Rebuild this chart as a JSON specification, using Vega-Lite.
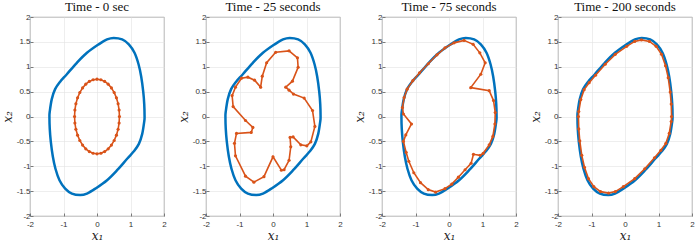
{
  "$schema": "https://vega.github.io/schema/vega-lite/v6.json",
  "padding": {"left": 0, "top": 0, "right": 0, "bottom": 0},
  "background": "white",
  "bounds": "flush",
  "spacing": 42,
  "config": {
    "view": {"stroke": "#7a7a7a", "strokeWidth": 0.8},
    "axis": {"grid": true, "gridColor": "#e3e3e3", "gridWidth": 0.6, "domain": false, "tickSize": -3, "tickColor": "#7a7a7a", "labelOverlap": false, "labelFlush": false, "labelFont": "Liberation Sans", "labelFontSize": 8, "labelColor": "#333333", "titleFont": "DejaVu Serif", "titleFontStyle": "italic", "titleFontWeight": "normal", "titleFontSize": 12, "titleColor": "#222222"},
    "axisX": {"labelPadding": 7, "titlePadding": 2},
    "axisY": {"labelPadding": 3, "titlePadding": 2},
    "title": {"font": "Liberation Serif", "fontSize": 13, "fontWeight": "normal", "color": "#111111", "offset": -1}
  },
  "datasets": {
    "blue": [
      {"i": 1, "x": 1.42, "y": 0.0}, {"i": 2, "x": 1.41, "y": 0.25}, {"i": 3, "x": 1.38, "y": 0.5}, {"i": 4, "x": 1.32, "y": 0.8}, {"i": 5, "x": 1.24, "y": 1.05}, {"i": 6, "x": 1.12, "y": 1.28}, {"i": 7, "x": 0.95, "y": 1.45}, {"i": 8, "x": 0.75, "y": 1.55}, {"i": 9, "x": 0.5, "y": 1.58}, {"i": 10, "x": 0.3, "y": 1.55}, {"i": 11, "x": 0.05, "y": 1.45}, {"i": 12, "x": -0.3, "y": 1.28}, {"i": 13, "x": -0.6, "y": 1.08}, {"i": 14, "x": -0.9, "y": 0.85}, {"i": 15, "x": -1.1, "y": 0.7}, {"i": 16, "x": -1.25, "y": 0.55}, {"i": 17, "x": -1.35, "y": 0.35}, {"i": 18, "x": -1.41, "y": 0.1},
      {"i": 19, "x": -1.42, "y": 0.0}, {"i": 20, "x": -1.41, "y": -0.25}, {"i": 21, "x": -1.38, "y": -0.5}, {"i": 22, "x": -1.32, "y": -0.8}, {"i": 23, "x": -1.24, "y": -1.05}, {"i": 24, "x": -1.12, "y": -1.28}, {"i": 25, "x": -0.95, "y": -1.45}, {"i": 26, "x": -0.75, "y": -1.55}, {"i": 27, "x": -0.5, "y": -1.58}, {"i": 28, "x": -0.3, "y": -1.55}, {"i": 29, "x": -0.05, "y": -1.45}, {"i": 30, "x": 0.3, "y": -1.28}, {"i": 31, "x": 0.6, "y": -1.08}, {"i": 32, "x": 0.9, "y": -0.85}, {"i": 33, "x": 1.1, "y": -0.7}, {"i": 34, "x": 1.25, "y": -0.55}, {"i": 35, "x": 1.35, "y": -0.35}, {"i": 36, "x": 1.41, "y": -0.1}
    ],
    "orange": [
      {"p": 1, "i": 1, "x": 0.67, "y": 0.0}, {"p": 1, "i": 2, "x": 0.66, "y": 0.13}, {"p": 1, "i": 3, "x": 0.63, "y": 0.257}, {"p": 1, "i": 4, "x": 0.58, "y": 0.375}, {"p": 1, "i": 5, "x": 0.513, "y": 0.482}, {"p": 1, "i": 6, "x": 0.431, "y": 0.575}, {"p": 1, "i": 7, "x": 0.335, "y": 0.65}, {"p": 1, "i": 8, "x": 0.229, "y": 0.705}, {"p": 1, "i": 9, "x": 0.116, "y": 0.739},
      {"p": 1, "i": 10, "x": 0.0, "y": 0.75}, {"p": 1, "i": 11, "x": -0.116, "y": 0.739}, {"p": 1, "i": 12, "x": -0.229, "y": 0.705}, {"p": 1, "i": 13, "x": -0.335, "y": 0.65}, {"p": 1, "i": 14, "x": -0.431, "y": 0.575}, {"p": 1, "i": 15, "x": -0.513, "y": 0.482}, {"p": 1, "i": 16, "x": -0.58, "y": 0.375}, {"p": 1, "i": 17, "x": -0.63, "y": 0.257}, {"p": 1, "i": 18, "x": -0.66, "y": 0.13},
      {"p": 1, "i": 19, "x": -0.67, "y": 0.0}, {"p": 1, "i": 20, "x": -0.66, "y": -0.13}, {"p": 1, "i": 21, "x": -0.63, "y": -0.257}, {"p": 1, "i": 22, "x": -0.58, "y": -0.375}, {"p": 1, "i": 23, "x": -0.513, "y": -0.482}, {"p": 1, "i": 24, "x": -0.431, "y": -0.575}, {"p": 1, "i": 25, "x": -0.335, "y": -0.65}, {"p": 1, "i": 26, "x": -0.229, "y": -0.705}, {"p": 1, "i": 27, "x": -0.116, "y": -0.739},
      {"p": 1, "i": 28, "x": 0.0, "y": -0.75}, {"p": 1, "i": 29, "x": 0.116, "y": -0.739}, {"p": 1, "i": 30, "x": 0.229, "y": -0.705}, {"p": 1, "i": 31, "x": 0.335, "y": -0.65}, {"p": 1, "i": 32, "x": 0.431, "y": -0.575}, {"p": 1, "i": 33, "x": 0.513, "y": -0.482}, {"p": 1, "i": 34, "x": 0.58, "y": -0.375}, {"p": 1, "i": 35, "x": 0.63, "y": -0.257}, {"p": 1, "i": 36, "x": 0.66, "y": -0.13},

      {"p": 2, "i": 1, "x": 0.08, "y": 1.29}, {"p": 2, "i": 2, "x": 0.48, "y": 1.32}, {"p": 2, "i": 3, "x": 0.73, "y": 1.18}, {"p": 2, "i": 4, "x": 0.75, "y": 0.99}, {"p": 2, "i": 5, "x": 0.58, "y": 0.71}, {"p": 2, "i": 6, "x": 0.38, "y": 0.59}, {"p": 2, "i": 7, "x": 0.48, "y": 0.53}, {"p": 2, "i": 8, "x": 0.61, "y": 0.45}, {"p": 2, "i": 9, "x": 0.93, "y": 0.37}, {"p": 2, "i": 10, "x": 1.18, "y": 0.12}, {"p": 2, "i": 11, "x": 1.25, "y": -0.2}, {"p": 2, "i": 12, "x": 1.13, "y": -0.51}, {"p": 2, "i": 13, "x": 1.01, "y": -0.59}, {"p": 2, "i": 14, "x": 0.83, "y": -0.57}, {"p": 2, "i": 15, "x": 0.6, "y": -0.41}, {"p": 2, "i": 16, "x": 0.51, "y": -0.42}, {"p": 2, "i": 17, "x": 0.53, "y": -0.61}, {"p": 2, "i": 18, "x": 0.48, "y": -0.88}, {"p": 2, "i": 19, "x": 0.33, "y": -1.07}, {"p": 2, "i": 20, "x": 0.25, "y": -1.08}, {"p": 2, "i": 21, "x": 0.0, "y": -0.81}, {"p": 2, "i": 22, "x": -0.27, "y": -1.21}, {"p": 2, "i": 23, "x": -0.57, "y": -1.32}, {"p": 2, "i": 24, "x": -0.82, "y": -1.2}, {"p": 2, "i": 25, "x": -1.12, "y": -0.79}, {"p": 2, "i": 26, "x": -1.15, "y": -0.54}, {"p": 2, "i": 27, "x": -1.09, "y": -0.34}, {"p": 2, "i": 28, "x": -0.65, "y": -0.32}, {"p": 2, "i": 29, "x": -0.6, "y": -0.22}, {"p": 2, "i": 30, "x": -0.82, "y": -0.08}, {"p": 2, "i": 31, "x": -1.19, "y": 0.2}, {"p": 2, "i": 32, "x": -1.22, "y": 0.42}, {"p": 2, "i": 33, "x": -1.12, "y": 0.59}, {"p": 2, "i": 34, "x": -0.94, "y": 0.77}, {"p": 2, "i": 35, "x": -0.75, "y": 0.79}, {"p": 2, "i": 36, "x": -0.55, "y": 0.73}, {"p": 2, "i": 37, "x": -0.37, "y": 0.59}, {"p": 2, "i": 38, "x": -0.32, "y": 0.81}, {"p": 2, "i": 39, "x": -0.19, "y": 1.08},

      {"p": 3, "i": 1, "x": 0.45, "y": 1.53}, {"p": 3, "i": 2, "x": 0.72, "y": 1.45}, {"p": 3, "i": 3, "x": 0.92, "y": 1.28}, {"p": 3, "i": 4, "x": 1.08, "y": 1.08}, {"p": 3, "i": 5, "x": 0.95, "y": 0.85}, {"p": 3, "i": 6, "x": 0.65, "y": 0.58}, {"p": 3, "i": 7, "x": 1.2, "y": 0.52}, {"p": 3, "i": 8, "x": 1.33, "y": 0.32}, {"p": 3, "i": 9, "x": 1.38, "y": 0.08}, {"p": 3, "i": 10, "x": 1.37, "y": -0.15}, {"p": 3, "i": 11, "x": 1.31, "y": -0.4}, {"p": 3, "i": 12, "x": 1.2, "y": -0.57}, {"p": 3, "i": 13, "x": 1.02, "y": -0.74}, {"p": 3, "i": 14, "x": 0.93, "y": -0.78}, {"p": 3, "i": 15, "x": 0.73, "y": -0.76}, {"p": 3, "i": 16, "x": 0.66, "y": -0.94}, {"p": 3, "i": 17, "x": 0.48, "y": -1.07}, {"p": 3, "i": 18, "x": 0.28, "y": -1.22}, {"p": 3, "i": 19, "x": 0.08, "y": -1.36}, {"p": 3, "i": 20, "x": -0.12, "y": -1.45}, {"p": 3, "i": 21, "x": -0.4, "y": -1.52}, {"p": 3, "i": 22, "x": -0.62, "y": -1.47}, {"p": 3, "i": 23, "x": -0.85, "y": -1.33}, {"p": 3, "i": 24, "x": -1.05, "y": -1.13}, {"p": 3, "i": 25, "x": -1.2, "y": -0.9}, {"p": 3, "i": 26, "x": -1.28, "y": -0.72}, {"p": 3, "i": 27, "x": -1.36, "y": -0.5}, {"p": 3, "i": 28, "x": -1.29, "y": -0.37}, {"p": 3, "i": 29, "x": -1.12, "y": -0.15}, {"p": 3, "i": 30, "x": -1.36, "y": 0.05}, {"p": 3, "i": 31, "x": -1.39, "y": 0.18}, {"p": 3, "i": 32, "x": -1.34, "y": 0.38}, {"p": 3, "i": 33, "x": -1.25, "y": 0.55}, {"p": 3, "i": 34, "x": -1.08, "y": 0.72}, {"p": 3, "i": 35, "x": -0.88, "y": 0.88}, {"p": 3, "i": 36, "x": -0.62, "y": 1.06}, {"p": 3, "i": 37, "x": -0.36, "y": 1.24}, {"p": 3, "i": 38, "x": -0.12, "y": 1.38}, {"p": 3, "i": 39, "x": 0.15, "y": 1.48},

      {"p": 4, "i": 1, "x": 1.39, "y": 0.0}, {"p": 4, "i": 2, "x": 1.38, "y": 0.25}, {"p": 4, "i": 3, "x": 1.35, "y": 0.49}, {"p": 4, "i": 4, "x": 1.29, "y": 0.78}, {"p": 4, "i": 5, "x": 1.21, "y": 1.02}, {"p": 4, "i": 6, "x": 1.09, "y": 1.25}, {"p": 4, "i": 7, "x": 0.93, "y": 1.41}, {"p": 4, "i": 8, "x": 0.73, "y": 1.51}, {"p": 4, "i": 9, "x": 0.49, "y": 1.54}, {"p": 4, "i": 10, "x": 0.29, "y": 1.51}, {"p": 4, "i": 11, "x": 0.05, "y": 1.41}, {"p": 4, "i": 12, "x": -0.29, "y": 1.25}, {"p": 4, "i": 13, "x": -0.59, "y": 1.05}, {"p": 4, "i": 14, "x": -0.88, "y": 0.83}, {"p": 4, "i": 15, "x": -1.07, "y": 0.68}, {"p": 4, "i": 16, "x": -1.22, "y": 0.54}, {"p": 4, "i": 17, "x": -1.32, "y": 0.34}, {"p": 4, "i": 18, "x": -1.38, "y": 0.1},
      {"p": 4, "i": 19, "x": -1.39, "y": 0.0}, {"p": 4, "i": 20, "x": -1.38, "y": -0.25}, {"p": 4, "i": 21, "x": -1.35, "y": -0.49}, {"p": 4, "i": 22, "x": -1.29, "y": -0.78}, {"p": 4, "i": 23, "x": -1.21, "y": -1.02}, {"p": 4, "i": 24, "x": -1.09, "y": -1.25}, {"p": 4, "i": 25, "x": -0.93, "y": -1.41}, {"p": 4, "i": 26, "x": -0.73, "y": -1.51}, {"p": 4, "i": 27, "x": -0.49, "y": -1.54}, {"p": 4, "i": 28, "x": -0.29, "y": -1.51}, {"p": 4, "i": 29, "x": -0.05, "y": -1.41}, {"p": 4, "i": 30, "x": 0.29, "y": -1.25}, {"p": 4, "i": 31, "x": 0.59, "y": -1.05}, {"p": 4, "i": 32, "x": 0.88, "y": -0.83}, {"p": 4, "i": 33, "x": 1.07, "y": -0.68}, {"p": 4, "i": 34, "x": 1.22, "y": -0.54}, {"p": 4, "i": 35, "x": 1.32, "y": -0.34}, {"p": 4, "i": 36, "x": 1.38, "y": -0.1}
    ]
  },
  "hconcat": [
    {
      "width": 134, "height": 199, "title": {"text": "Time - 0 sec", "font": "Liberation Serif", "fontWeight": "normal", "fontSize": 13, "color": "#111111", "offset": -1},
      "encoding": {
        "x": {"field": "x", "type": "quantitative", "scale": {"domain": [-2, 2], "nice": false}, "axis": {"values": [-2, -1, 0, 1, 2], "title": "x₁", "labelExpr": "'' + datum.value"}},
        "y": {"field": "y", "type": "quantitative", "scale": {"domain": [-2, 2], "nice": false}, "axis": {"values": [-2, -1.5, -1, -0.5, 0, 0.5, 1, 1.5, 2], "title": "x₂", "labelExpr": "'' + datum.value"}}
      },
      "layer": [
        {"data": {"name": "blue"}, "mark": {"type": "line", "interpolate": "cardinal-closed", "color": "#0072BD", "strokeWidth": 2.5}, "encoding": {"order": {"field": "i", "type": "quantitative"}}},
        {"data": {"name": "orange"}, "transform": [{"filter": "datum.p == 1"}], "mark": {"type": "line", "interpolate": "linear-closed", "color": "#D95319", "strokeWidth": 1.6}, "encoding": {"order": {"field": "i", "type": "quantitative"}}},
        {"data": {"name": "orange"}, "transform": [{"filter": "datum.p == 1"}], "mark": {"type": "point", "filled": true, "color": "#D95319", "size": 10, "opacity": 1}, "encoding": {}}
      ]
    },
    {
      "width": 134, "height": 199, "title": {"text": "Time - 25 seconds", "font": "Liberation Serif", "fontWeight": "normal", "fontSize": 13, "color": "#111111", "offset": -1},
      "encoding": {
        "x": {"field": "x", "type": "quantitative", "scale": {"domain": [-2, 2], "nice": false}, "axis": {"values": [-2, -1, 0, 1, 2], "title": "x₁", "labelExpr": "'' + datum.value"}},
        "y": {"field": "y", "type": "quantitative", "scale": {"domain": [-2, 2], "nice": false}, "axis": {"values": [-2, -1.5, -1, -0.5, 0, 0.5, 1, 1.5, 2], "title": "x₂", "labelExpr": "'' + datum.value"}}
      },
      "layer": [
        {"data": {"name": "blue"}, "mark": {"type": "line", "interpolate": "cardinal-closed", "color": "#0072BD", "strokeWidth": 2.5}, "encoding": {"order": {"field": "i", "type": "quantitative"}}},
        {"data": {"name": "orange"}, "transform": [{"filter": "datum.p == 2"}], "mark": {"type": "line", "interpolate": "linear-closed", "color": "#D95319", "strokeWidth": 1.6}, "encoding": {"order": {"field": "i", "type": "quantitative"}}},
        {"data": {"name": "orange"}, "transform": [{"filter": "datum.p == 2"}], "mark": {"type": "point", "filled": true, "color": "#D95319", "size": 10, "opacity": 1}, "encoding": {}}
      ]
    },
    {
      "width": 134, "height": 199, "title": {"text": "Time - 75 seconds", "font": "Liberation Serif", "fontWeight": "normal", "fontSize": 13, "color": "#111111", "offset": -1},
      "encoding": {
        "x": {"field": "x", "type": "quantitative", "scale": {"domain": [-2, 2], "nice": false}, "axis": {"values": [-2, -1, 0, 1, 2], "title": "x₁", "labelExpr": "'' + datum.value"}},
        "y": {"field": "y", "type": "quantitative", "scale": {"domain": [-2, 2], "nice": false}, "axis": {"values": [-2, -1.5, -1, -0.5, 0, 0.5, 1, 1.5, 2], "title": "x₂", "labelExpr": "'' + datum.value"}}
      },
      "layer": [
        {"data": {"name": "blue"}, "mark": {"type": "line", "interpolate": "cardinal-closed", "color": "#0072BD", "strokeWidth": 2.5}, "encoding": {"order": {"field": "i", "type": "quantitative"}}},
        {"data": {"name": "orange"}, "transform": [{"filter": "datum.p == 3"}], "mark": {"type": "line", "interpolate": "linear-closed", "color": "#D95319", "strokeWidth": 1.6}, "encoding": {"order": {"field": "i", "type": "quantitative"}}},
        {"data": {"name": "orange"}, "transform": [{"filter": "datum.p == 3"}], "mark": {"type": "point", "filled": true, "color": "#D95319", "size": 10, "opacity": 1}, "encoding": {}}
      ]
    },
    {
      "width": 134, "height": 199, "title": {"text": "Time - 200 seconds", "font": "Liberation Serif", "fontWeight": "normal", "fontSize": 13, "color": "#111111", "offset": -1},
      "encoding": {
        "x": {"field": "x", "type": "quantitative", "scale": {"domain": [-2, 2], "nice": false}, "axis": {"values": [-2, -1, 0, 1, 2], "title": "x₁", "labelExpr": "'' + datum.value"}},
        "y": {"field": "y", "type": "quantitative", "scale": {"domain": [-2, 2], "nice": false}, "axis": {"values": [-2, -1.5, -1, -0.5, 0, 0.5, 1, 1.5, 2], "title": "x₂", "labelExpr": "'' + datum.value"}}
      },
      "layer": [
        {"data": {"name": "blue"}, "mark": {"type": "line", "interpolate": "cardinal-closed", "color": "#0072BD", "strokeWidth": 2.5}, "encoding": {"order": {"field": "i", "type": "quantitative"}}},
        {"data": {"name": "orange"}, "transform": [{"filter": "datum.p == 4"}], "mark": {"type": "line", "interpolate": "linear-closed", "color": "#D95319", "strokeWidth": 1.6}, "encoding": {"order": {"field": "i", "type": "quantitative"}}},
        {"data": {"name": "orange"}, "transform": [{"filter": "datum.p == 4"}], "mark": {"type": "point", "filled": true, "color": "#D95319", "size": 10, "opacity": 1}, "encoding": {}}
      ]
    }
  ]
}
